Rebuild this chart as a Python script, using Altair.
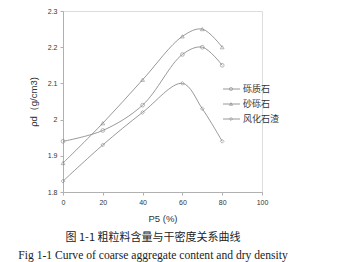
import altair as alt
import pandas as pd

x_vals = [0, 20, 40, 60, 70, 80]
series_names = ["砾质石", "砂砾石", "风化石渣"]
s_gravelly = [1.94, 1.97, 2.04, 2.18, 2.20, 2.15]
s_sandgravel = [1.88, 1.99, 2.11, 2.23, 2.25, 2.20]
s_weathered = [1.83, 1.93, 2.02, 2.10, 2.03, 1.94]
shapes = ["circle", "triangle-up", "diamond"]
x_ticks = [0, 20, 40, 60, 80, 100]
y_ticks = [1.8, 1.9, 2.0, 2.1, 2.2, 2.3]

rows = []
for name, vals in zip(series_names, [s_gravelly, s_sandgravel, s_weathered]):
    for xv, yv in zip(x_vals, vals):
        rows.append({"x": xv, "y": yv, "series": name})
df = pd.DataFrame(rows)

W, H = 199, 181
line_col = "#7f7f7f"

xs = alt.Scale(domain=[0, 100], nice=False)
ys = alt.Scale(domain=[1.8, 2.3], nice=False, zero=False)

common = dict(grid=False, labelFontSize=7, titleFontSize=9.5, titleFontWeight="normal",
              domainColor="#b0b0b0", tickColor="#b0b0b0", tickSize=3, labelColor="#333",
              titleColor="#333", labelPadding=3, labelFont="Liberation Sans",
              titleFont="Liberation Sans", labelOverlap=False, labelFlush=False)
xenc = alt.X("x:Q", scale=xs, axis=alt.Axis(values=x_ticks, title="P5 (%)", titlePadding=8, **common))
yenc = alt.Y("y:Q", scale=ys, axis=alt.Axis(values=y_ticks, title="ρd（g/cm3)", titlePadding=9,
                                            format="~g", **common))

base = alt.Chart(df)
lines = base.mark_line(interpolate="catmull-rom", color=line_col, strokeWidth=0.8).encode(
    x=xenc, y=yenc, detail="series:N")
points = base.mark_point(filled=False, color=line_col, size=14, strokeWidth=0.8).encode(
    x=xenc, y=yenc,
    shape=alt.Shape("series:N", scale=alt.Scale(domain=series_names, range=shapes), legend=None))

layers = [lines, points]

for i, name in enumerate(series_names):
    ly = 78 + 15 * i
    one = alt.Chart(pd.DataFrame({"series": [name]}))
    layers.append(one.mark_rule(color=line_col, strokeWidth=0.8).encode(
        x=alt.value(160), x2=alt.value(177), y=alt.value(ly)))
    layers.append(one.mark_point(filled=False, color=line_col, size=10, strokeWidth=0.8,
                                 shape=shapes[i]).encode(x=alt.value(168), y=alt.value(ly)))
    layers.append(one.mark_text(align="left", baseline="middle", fontSize=9, color="#333",
                                font="Noto Sans CJK SC").encode(
        x=alt.value(180), y=alt.value(ly), text="series:N"))

cap1 = alt.Chart(pd.DataFrame({"t": ["图 1-1 粗粒料含量与干密度关系曲线"]})).mark_text(
    align="center", baseline="middle", fontSize=11, color="#222", font="Noto Sans CJK SC"
).encode(x=alt.value(90), y=alt.value(227), text="t:N")
cap2 = alt.Chart(pd.DataFrame({"t": ["Fig 1-1 Curve of coarse aggregate content and dry density"]})).mark_text(
    align="center", baseline="middle", fontSize=11.6, color="#222", font="Liberation Serif"
).encode(x=alt.value(90), y=alt.value(245), text="t:N")
layers += [cap1, cap2]

chart = alt.layer(*layers).properties(
    width=W, height=H,
    autosize=alt.AutoSizeParams(type="none"),
    padding={"left": 63, "top": 11, "right": 75, "bottom": 70},
).configure_view(stroke=None).configure(background="white")

chart.save("out.html", embed_options={"renderer": "svg", "actions": False})
